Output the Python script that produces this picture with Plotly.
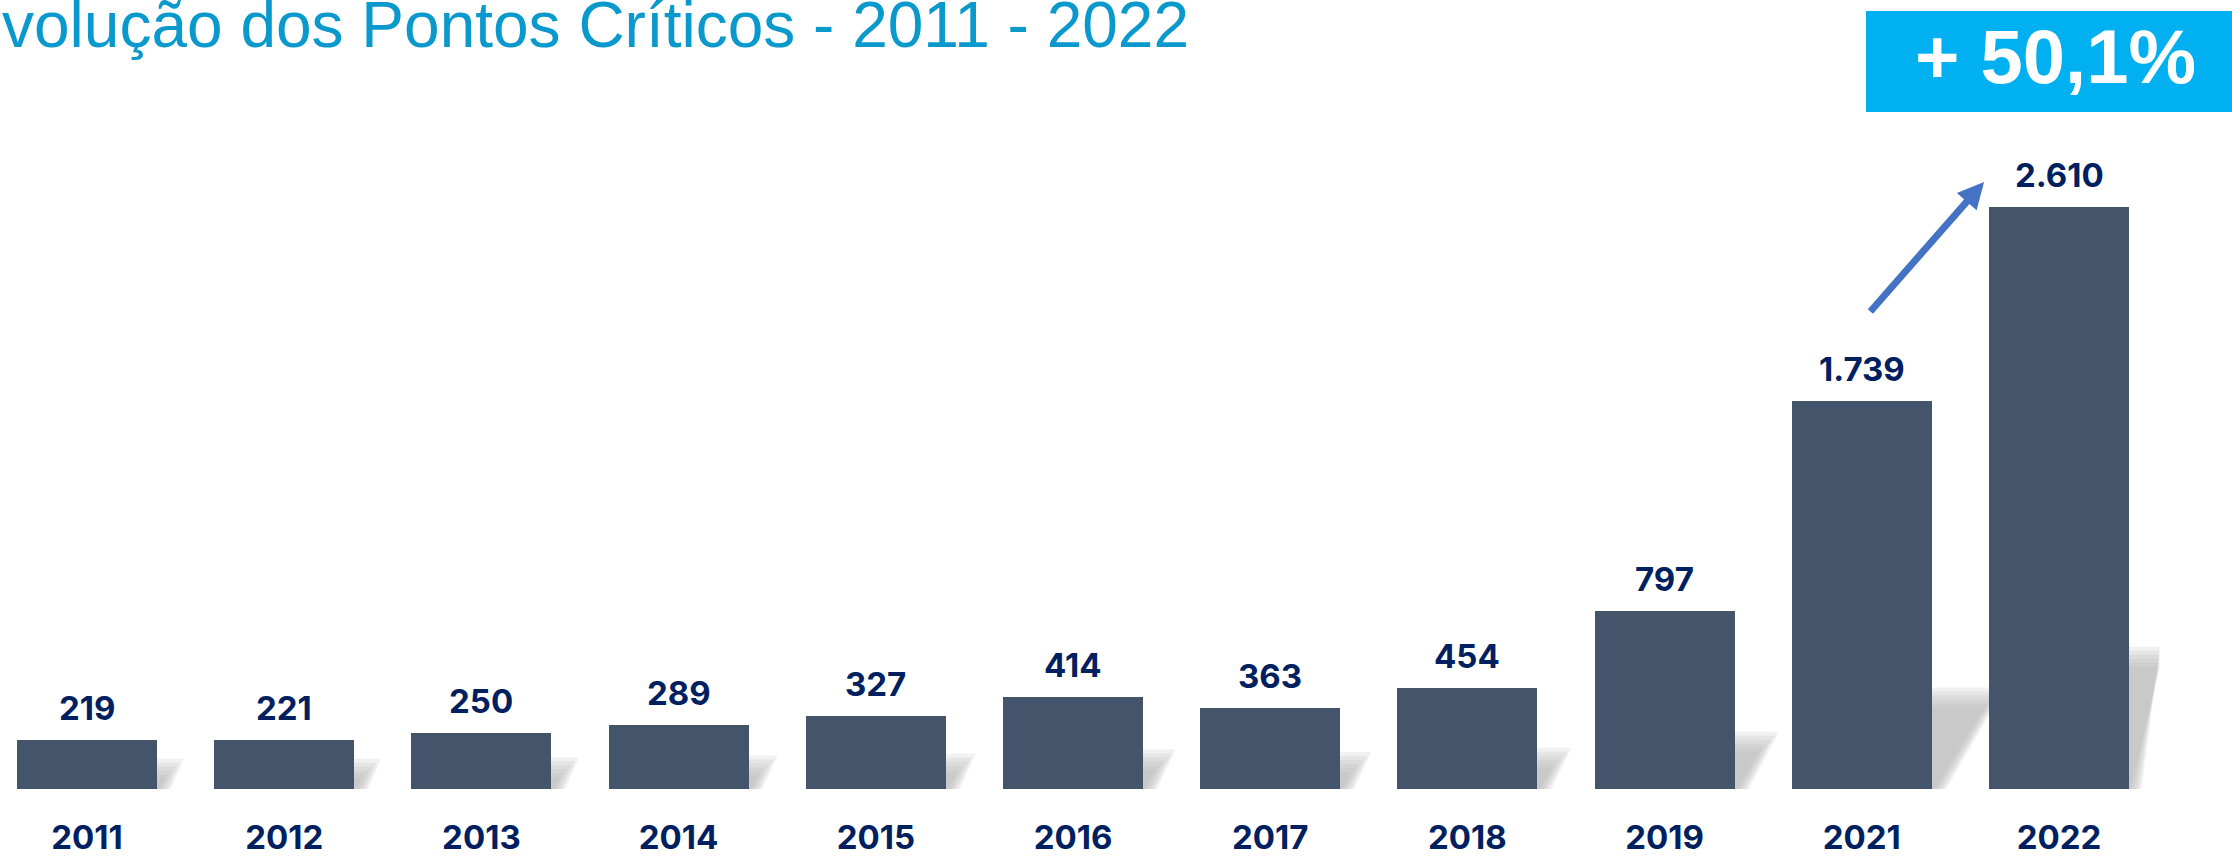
import plotly.graph_objects as go

# ---- data ----
years = ["2011", "2012", "2013", "2014", "2015", "2016", "2017", "2018", "2019", "2021", "2022"]
values = [219, 221, 250, 289, 327, 414, 363, 454, 797, 1739, 2610]
value_labels = ["219", "221", "250", "289", "327", "414", "363", "454", "797", "1.739", "2.610"]
title_text = "volução dos Pontos Críticos - 2011 - 2022"
badge_text = "+ 50,1%"

# ---- layout geometry ----
W, H = 2232, 857
plot_h = 789
y_max = 3538
px_per_unit = plot_h / y_max
x_first_px, pitch_px = 87, 197.2
x_range = [-x_first_px / pitch_px, (W - x_first_px) / pitch_px]
bar_w = 140 / pitch_px

BAR = "#44546A"
LBL = "#002060"
FONT = "Inter, Roboto, sans-serif"

fig = go.Figure()
fig.add_trace(go.Bar(
    x=years, y=values, width=bar_w, marker=dict(color=BAR, line=dict(width=0)),
    hoverinfo="skip", showlegend=False,
))

# shadows (perspective, blurred via layers)
shapes = []
clip_idx = (2160 - x_first_px) / pitch_px
for i, v in enumerate(values):
    xl = i - bar_w / 2
    xr = i + bar_w / 2
    hs_px = 0.21 * v * px_per_unit
    dx_px = 0.65 * hs_px
    for e in [20, 16, 12, 8, 4, 0]:
        ex = e / pitch_px
        top_y = (hs_px + e) / px_per_unit
        xr_top = min(xr + dx_px / pitch_px + ex, clip_idx)
        xr_bot = min(xr + ex * 0.6, clip_idx)
        path = (f"M {xl},{-4/px_per_unit} L {xr_bot},{-4/px_per_unit} "
                f"L {xr_top},{top_y} L {xl + dx_px / pitch_px},{top_y} Z")
        shapes.append(dict(type="path", path=path, xref="x", yref="y",
                           fillcolor="#b4b4b4", opacity=0.19, line=dict(width=0),
                           layer="below"))

# badge
shapes.append(dict(type="rect", xref="paper", yref="paper",
                   x0=1866 / W, x1=1, y0=1 - 112 / plot_h, y1=1 - 11 / plot_h,
                   fillcolor="#00B0F0", line=dict(width=0), layer="above"))

annotations = []
for i, (v, t) in enumerate(zip(values, value_labels)):
    annotations.append(dict(x=i, y=v, xref="x", yref="y", text=t, showarrow=False,
                            yanchor="bottom", yshift=10,
                            font=dict(family=FONT, size=33, color=LBL, weight=700)))

annotations.append(dict(x=0, y=1, xref="paper", yref="paper", text=title_text,
                        showarrow=False, xanchor="left", yanchor="top", xshift=0, yshift=13,
                        font=dict(family="Arial, Liberation Sans, sans-serif", size=64,
                                  color="#0A99CC")))
annotations.append(dict(x=2055 / W, y=1 - 57 / plot_h, xref="paper", yref="paper",
                        text=f"<b>{badge_text}</b>", showarrow=False,
                        xanchor="center", yanchor="middle",
                        font=dict(family="Arial, Liberation Sans, sans-serif", size=76,
                                  color="white")))

# arrow from 2021 toward 2022
i_last = len(values) - 1
annotations.append(dict(x=i_last - 0.38, y=values[-1] + 112, xref="x", yref="y",
                        ax=-115, ay=131, axref="pixel", ayref="pixel",
                        text="", showarrow=True, arrowhead=2, arrowsize=0.75,
                        arrowwidth=7, arrowcolor="#4472C4", standoff=0))

fig.update_layout(
    width=W, height=H,
    margin=dict(l=0, r=0, t=0, b=H - plot_h, pad=0, autoexpand=False),
    paper_bgcolor="white", plot_bgcolor="white",
    bargap=0,
    shapes=shapes, annotations=annotations,
    xaxis=dict(type="category", range=x_range, showgrid=False, zeroline=False,
               showline=False, ticks="", ticklabelstandoff=26, automargin=False,
               tickfont=dict(family=FONT, size=33, color=LBL, weight=700),
               fixedrange=True),
    yaxis=dict(range=[0, y_max], visible=False, fixedrange=True, automargin=False),
)

fig.write_html("out.html", config={"displayModeBar": False},
               post_script="document.body.style.margin='0';")
